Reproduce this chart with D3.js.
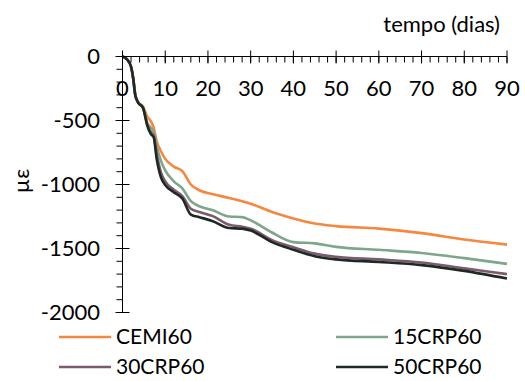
<!DOCTYPE html>
<html>
<head>
<meta charset="utf-8">
<script src="https://cdn.jsdelivr.net/npm/d3@7"></script>
<style>
  body { margin: 0; background: #fff; }
  svg text { font-family: Lato, "Open Sans", sans-serif; fill: #000; }
</style>
</head>
<body>
<svg id="chart" width="525" height="381"></svg>
<script>
// dias
const days = [0, 1, 2, 2.5, 3, 3.7, 4.8, 5.8, 6.6, 7.3, 8, 9, 10, 12, 14, 16, 18, 21, 25, 28, 30, 35, 40, 45, 50, 60, 70, 80, 90];

// deformação (µε)
const cemi60 = [0, -20, -80, -170, -300, -360, -390, -470, -505, -555, -660, -740, -800, -860, -895, -1000, -1045, -1075, -1105, -1130, -1150, -1215, -1265, -1305, -1325, -1345, -1380, -1430, -1470];
const crp15 = [0, -20, -80, -170, -300, -360, -395, -520, -555, -590, -700, -815, -890, -975, -1030, -1130, -1170, -1200, -1250, -1255, -1280, -1375, -1450, -1460, -1487, -1510, -1535, -1575, -1620];
const crp30 = [0, -20, -80, -170, -302, -360, -400, -530, -590, -620, -760, -905, -975, -1040, -1090, -1190, -1215, -1245, -1315, -1330, -1345, -1435, -1490, -1540, -1565, -1585, -1610, -1655, -1700];
const crp50 = [0, -20, -80, -170, -305, -362, -402, -540, -605, -630, -800, -945, -1005, -1060, -1110, -1235, -1255, -1285, -1340, -1345, -1360, -1450, -1510, -1560, -1585, -1605, -1630, -1675, -1735];

const seriesNames = ["CEMI60", "15CRP60", "30CRP60", "50CRP60"];
const seriesValues = [cemi60, crp15, crp30, crp50];
const colors = ["#F5873E", "#7DA68A", "#7B5A6E", "#1D2A24"];

const xTicks = [0, 10, 20, 30, 40, 50, 60, 70, 80, 90];
const yTicks = [0, -500, -1000, -1500, -2000];

const svg = d3.select("#chart");
const fs = 22;

const x = d3.scaleLinear().domain([0, 90]).range([122.5, 507]);
const y = d3.scaleLinear().domain([0, -2000]).range([56.5, 312.5]);

// linhas
const line = d3.line()
  .x((d) => x(d[0]))
  .y((d) => y(d[1]))
  .curve(d3.curveMonotoneX);

seriesValues.forEach((vals, i) => {
  svg.append("path")
    .datum(days.map((t, j) => [t, vals[j]]))
    .attr("fill", "none")
    .attr("stroke", colors[i])
    .attr("stroke-width", 2.6)
    .attr("d", line);
});

// eixo y
const gy = svg.append("g");
gy.append("line")
  .attr("x1", x(0)).attr("x2", x(0))
  .attr("y1", y(0)).attr("y2", y(-2000))
  .attr("stroke", "#000");
gy.selectAll(".minor")
  .data(d3.range(0, -2001, -100))
  .join("line")
  .attr("x1", x(0) - 6).attr("x2", x(0))
  .attr("y1", (d) => y(d)).attr("y2", (d) => y(d))
  .attr("stroke", "#000");
gy.selectAll(".major")
  .data(yTicks)
  .join("line")
  .attr("x1", x(0) - 7).attr("x2", x(0) + 7)
  .attr("y1", (d) => y(d)).attr("y2", (d) => y(d))
  .attr("stroke", "#000");
gy.selectAll("text")
  .data(yTicks)
  .join("text")
  .attr("x", 100)
  .attr("y", (d) => y(d))
  .attr("dy", "0.35em")
  .attr("text-anchor", "end")
  .attr("font-size", fs)
  .text((d) => d);

// eixo x (no topo)
const gx = svg.append("g");
gx.append("line")
  .attr("x1", x(0)).attr("x2", x(90))
  .attr("y1", y(0)).attr("y2", y(0))
  .attr("stroke", "#000");
gx.selectAll(".minor")
  .data(d3.range(0, 91, 2))
  .join("line")
  .attr("x1", (d) => x(d)).attr("x2", (d) => x(d))
  .attr("y1", y(0)).attr("y2", y(0) + 6)
  .attr("stroke", "#000");
gx.selectAll(".major")
  .data(xTicks)
  .join("line")
  .attr("x1", (d) => x(d)).attr("x2", (d) => x(d))
  .attr("y1", y(0) - 6).attr("y2", y(0) + 7)
  .attr("stroke", "#000");
gx.selectAll("text")
  .data(xTicks)
  .join("text")
  .attr("x", (d) => x(d))
  .attr("y", 88)
  .attr("dy", "0.35em")
  .attr("text-anchor", "middle")
  .attr("font-size", fs)
  .text((d) => d);

// títulos
svg.append("text")
  .attr("x", 500)
  .attr("y", 32)
  .attr("text-anchor", "end")
  .attr("font-size", fs)
  .text("tempo (dias)");

svg.append("text")
  .attr("transform", "translate(29,181) rotate(-90)")
  .attr("text-anchor", "middle")
  .attr("font-size", fs)
  .text("µε");

// legenda
const legendPos = [[59, 337], [336, 337], [59, 367], [336, 367]];
const legend = svg.append("g")
  .selectAll("g")
  .data(seriesNames)
  .join("g")
  .attr("transform", (d, i) => `translate(${legendPos[i][0]},${legendPos[i][1]})`);
legend.append("line")
  .attr("x1", 0).attr("x2", 52)
  .attr("stroke", (d, i) => colors[i])
  .attr("stroke-width", 2.6);
legend.append("text")
  .attr("x", 57)
  .attr("dy", "0.35em")
  .attr("font-size", 21)
  .text((d) => d);
</script>
</body>
</html>
